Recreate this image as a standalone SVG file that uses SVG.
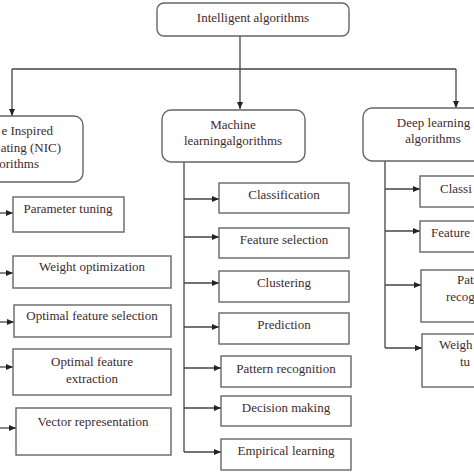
<svg xmlns="http://www.w3.org/2000/svg" width="474" height="474" viewBox="0 0 474 474">
<defs>
<marker id="ah" markerWidth="7" markerHeight="6" refX="7" refY="3" orient="auto" markerUnits="userSpaceOnUse">
<path d="M0,0 L7,3 L0,6 z" fill="#222"/>
</marker>
<style>
.box{fill:#fff;stroke:#666;stroke-width:1.4}
.t{font-family:"Liberation Serif","Times New Roman",serif;font-size:13px;fill:#3e2a2e}
.c{text-anchor:middle}
.e{text-anchor:end}
.ln{fill:none;stroke:#444;stroke-width:1.3}
.ar{fill:none;stroke:#444;stroke-width:1.3;marker-end:url(#ah)}
</style>
</defs>
<rect width="474" height="474" fill="#fff"/>
<g id="connectors">
<path class="ar" d="M240,36 V109"/>
<path class="ln" d="M12,69 H456"/>
<path class="ar" d="M12,69 V116"/>
<path class="ar" d="M456,69 V108"/>
<path class="ar" d="M0,213 H13"/>
<path class="ar" d="M0,273 H13"/>
<path class="ar" d="M0,322 H14"/>
<path class="ar" d="M0,367 H13"/>
<path class="ar" d="M0,428 H16"/>
<path class="ln" d="M184,162 V452"/>
<path class="ar" d="M184,199 H219"/>
<path class="ar" d="M184,237 H219"/>
<path class="ar" d="M184,283 H219"/>
<path class="ar" d="M184,327 H219"/>
<path class="ar" d="M184,368 H221"/>
<path class="ar" d="M184,408 H221"/>
<path class="ar" d="M184,452 H221"/>
<path class="ln" d="M385,161 V348"/>
<path class="ar" d="M385,189 H420"/>
<path class="ar" d="M385,231 H420"/>
<path class="ar" d="M385,285 H421"/>
<path class="ar" d="M385,348 H422"/>
</g>
<g id="root"><rect class="box" x="157" y="3" width="192" height="33" rx="7"/><text class="t c" x="253" y="22">Intelligent algorithms</text></g>
<g id="nic"><rect class="box" x="-60" y="116" width="143" height="66" rx="9"/><text class="t e" x="53" y="135">e Inspired</text><text class="t e" x="61" y="152">ating (NIC)</text><text class="t e" x="39" y="168">orithms</text></g>
<g id="ml"><rect class="box" x="162" y="110" width="143" height="52" rx="9"/><text class="t c" x="233" y="129">Machine</text><text class="t c" x="233" y="145">learningalgorithms</text></g>
<g id="dl"><rect class="box" x="363" y="108" width="150" height="53" rx="9"/><text class="t c" x="433.5" y="127">Deep learning</text><text class="t c" x="433" y="143">algorithms</text></g>
<g id="n1"><rect class="box" x="13" y="197" width="111" height="35"/><text class="t c" x="68" y="213">Parameter tuning</text></g>
<g id="n2"><rect class="box" x="13" y="256" width="158" height="32"/><text class="t c" x="92" y="271">Weight optimization</text></g>
<g id="n3"><rect class="box" x="14" y="305" width="157" height="32"/><text class="t c" x="92" y="320">Optimal feature selection</text></g>
<g id="n4"><rect class="box" x="13" y="349" width="158" height="46"/><text class="t c" x="92" y="366">Optimal feature</text><text class="t c" x="92" y="383">extraction</text></g>
<g id="n5"><rect class="box" x="16" y="408" width="155" height="47"/><text class="t c" x="93" y="426">Vector representation</text></g>
<g id="m1"><rect class="box" x="219" y="183" width="130" height="30"/><text class="t c" x="284" y="199">Classification</text></g>
<g id="m2"><rect class="box" x="219" y="228" width="130" height="30"/><text class="t c" x="284" y="244">Feature selection</text></g>
<g id="m3"><rect class="box" x="219" y="271" width="130" height="31"/><text class="t c" x="284" y="287">Clustering</text></g>
<g id="m4"><rect class="box" x="219" y="313" width="130" height="31"/><text class="t c" x="284" y="329">Prediction</text></g>
<g id="m5"><rect class="box" x="221" y="356" width="130" height="31"/><text class="t c" x="286" y="373">Pattern recognition</text></g>
<g id="m6"><rect class="box" x="221" y="396" width="130" height="30"/><text class="t c" x="286" y="412">Decision making</text></g>
<g id="m7"><rect class="box" x="221" y="439" width="130" height="31"/><text class="t c" x="286" y="455">Empirical learning</text></g>
<g id="d1"><rect class="box" x="420" y="176" width="114" height="31"/><text class="t" x="440" y="193">Classi</text></g>
<g id="d2"><rect class="box" x="420" y="221" width="114" height="31"/><text class="t" x="431" y="237">Feature</text></g>
<g id="d3"><rect class="box" x="421" y="270" width="114" height="52"/><text class="t" x="457" y="284">Pat</text><text class="t" x="446" y="301">recog</text></g>
<g id="d4"><rect class="box" x="422" y="334" width="114" height="53"/><text class="t" x="439" y="349">Weigh</text><text class="t" x="460" y="366">tu</text></g>
</svg>
